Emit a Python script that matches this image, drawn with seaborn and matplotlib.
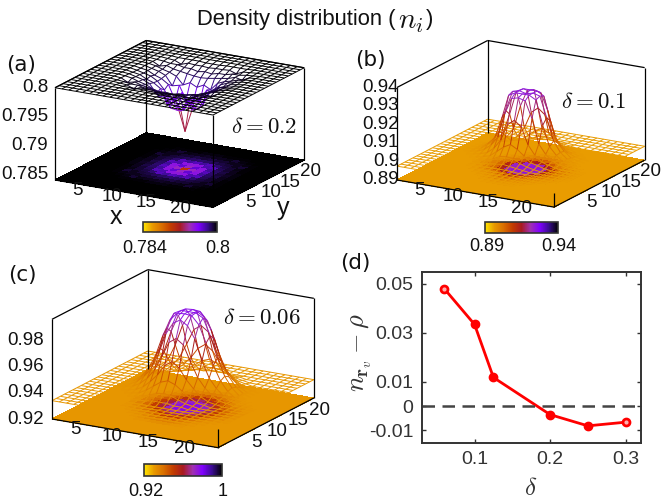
import numpy as np
import seaborn as sns
import matplotlib
matplotlib.use("Agg")
import matplotlib.pyplot as plt
from matplotlib.cm import ScalarMappable
from matplotlib.colors import Normalize
from mpl_toolkits.mplot3d import proj3d
from mpl_toolkits.mplot3d.art3d import Line3DCollection

W, H = 662, 499

# lattice sites and tick labels of the 3d panels
sites = list(range(1, 25))
lattice_ticks = [5, 10, 15, 20]

# density vs distance from the vortex site (|dx|, |dy|), last row/col = far field
table_a = [
    [.7906, .7945, .7950, .7972, .7985, .7992, .7995, .7998, .8000],
    [.7945, .7968, .7952, .7978, .7986, .7990, .7996, .7998, .8000],
    [.7950, .7952, .7975, .7972, .7988, .7993, .7996, .7999, .8000],
    [.7972, .7978, .7972, .7985, .7990, .7993, .7997, .7999, .8000],
    [.7985, .7986, .7988, .7990, .7992, .7996, .7993, .7999, .8000],
    [.7992, .7990, .7993, .7993, .7996, .7996, .7998, .7999, .8000],
    [.7995, .7996, .7996, .7997, .7993, .7998, .7999, .8000, .8000],
    [.7998, .7998, .7999, .7999, .7999, .7999, .8000, .8000, .8000],
    [.8000, .8000, .8000, .8000, .8000, .8000, .8000, .8000, .8000],
]
table_b = [
    [.9310, .9320, .9310, .9200, .9080, .9025, .8995, .8980, .8975],
    [.9320, .9320, .9300, .9170, .9060, .9020, .8990, .8980, .8975],
    [.9310, .9300, .9210, .9080, .9030, .9000, .8985, .8978, .8975],
    [.9200, .9170, .9080, .9030, .9000, .8988, .8980, .8975, .8975],
    [.9080, .9060, .9030, .9000, .8990, .8980, .8975, .8975, .8975],
    [.9025, .9020, .9000, .8988, .8980, .8975, .8975, .8975, .8975],
    [.8995, .8990, .8985, .8980, .8975, .8975, .8975, .8975, .8975],
    [.8980, .8980, .8978, .8975, .8975, .8975, .8975, .8975, .8975],
    [.8975, .8975, .8975, .8975, .8975, .8975, .8975, .8975, .8975],
]
table_c = [
    [.9935, .9935, .9905, .9780, .9620, .9490, .9410, .9360, .9340],
    [.9935, .9930, .9870, .9740, .9580, .9470, .9400, .9360, .9340],
    [.9905, .9870, .9780, .9620, .9500, .9430, .9380, .9350, .9340],
    [.9780, .9740, .9620, .9510, .9440, .9390, .9360, .9350, .9340],
    [.9620, .9580, .9500, .9440, .9390, .9360, .9350, .9340, .9340],
    [.9490, .9470, .9430, .9390, .9360, .9350, .9340, .9340, .9340],
    [.9410, .9400, .9380, .9360, .9350, .9340, .9340, .9340, .9340],
    [.9360, .9360, .9350, .9350, .9340, .9340, .9340, .9340, .9340],
    [.9340, .9340, .9340, .9340, .9340, .9340, .9340, .9340, .9340],
]

# panel d
delta = [0.06, 0.1, 0.125, 0.2, 0.25, 0.3]
n_diff = [0.048, 0.0334, 0.0117, -0.0035, -0.0081, -0.0066]
d_xticks = [0.1, 0.2, 0.3]
d_yticks = [-0.01, 0, 0.01, 0.03, 0.05]
d_ylabels = ["-0.01", "0", "0.01", "0.03", "0.05"]

sns.set_theme(style="white", font="Liberation Sans")
plt.rcParams["mathtext.fontset"] = "cm"

cmap = sns.blend_palette(["#ffe600", "#e89a00", "#d96f00", "#c23c00", "#a81a20",
                          "#a030b0", "#8000ff", "#3a0c90", "#000000"], n_colors=256, as_cmap=True)

fig = plt.figure(figsize=(W / 100, H / 100), dpi=100)


def to_px(ax, x, y, z):
    xs, ys, _ = proj3d.proj_transform(x, y, z, ax.get_proj())
    px, py = ax.transData.transform((xs, ys))
    return px, H - py


def put(x, y, s, **kw):
    return fig.text(x / W, 1 - y / H, s, **kw)


def panel(table, zlim, cmax, zticks, zlabels, left, front_x, z_frac, zlab_x, elev=17.4):
    ax = fig.add_axes([0, 0, 1, 1], projection="3d")
    ax.set_proj_type("ortho")
    ax.view_init(elev=elev, azim=-60)
    ax.set_axis_off()
    ax.patch.set_alpha(0)
    ax.computed_zorder = False

    idx = np.minimum(np.abs(np.array(sites) - 13), 8)
    Z = np.array(table)[np.ix_(idx, idx)]
    norm = Normalize(zlim[0], cmax)

    # flat heat map on the floor, one cell around each site
    edges = np.array([1] + [s + 0.5 for s in sites[:-1]] + [24])
    X0, Y0 = np.meshgrid(edges, edges, indexing="ij")
    colors = np.zeros(X0.shape + (4,))
    colors[:-1, :-1] = cmap(norm(Z))
    ax.plot_surface(X0, Y0, np.full(X0.shape, zlim[0]), facecolors=colors, rstride=1, cstride=1,
                    shade=False, antialiased=False, linewidth=0, zorder=1)

    # wire mesh coloured by height
    segs, seg_vals = [], []
    for i, a in enumerate(sites):
        for j, b in enumerate(sites):
            if i < 23:
                segs.append([(a, b, Z[i, j]), (a + 1, b, Z[i + 1, j])])
                seg_vals.append((Z[i, j] + Z[i + 1, j]) / 2)
            if j < 23:
                segs.append([(a, b, Z[i, j]), (a, b + 1, Z[i, j + 1])])
                seg_vals.append((Z[i, j] + Z[i, j + 1]) / 2)
    ax.add_collection3d(Line3DCollection(segs, colors=cmap(norm(np.array(seg_vals))), linewidths=0.7, zorder=3))

    # box lines like gnuplot border
    z0, z1 = zlim
    box = [[(1, 1, z0), (24, 1, z0)], [(24, 1, z0), (24, 24, z0)],
           [(1, 1, z0), (1, 1, z1)], [(1, 24, z0), (1, 24, z1)], [(24, 24, z0), (24, 24, z1)],
           [(1, 1, z1), (1, 24, z1)], [(1, 24, z1), (24, 24, z1)],
           [(24, 1, z0), (24, 1, Z[-1, 0])]]
    ax.add_collection3d(Line3DCollection(box, colors="black", linewidths=0.9, zorder=4))
    ax.set_xlim(1, 24)
    ax.set_ylim(1, 24)
    ax.set_zlim(*zlim)

    # scale and shift the axes so the floor corners land where they should
    ax.set_box_aspect((1, 1, z_frac), zoom=1)
    ax.apply_aspect()
    x1, _ = to_px(ax, 1, 1, z0)
    x2, _ = to_px(ax, 24, 1, z0)
    ax.set_box_aspect((1, 1, z_frac), zoom=(front_x - left[0]) / (x2 - x1))
    ax.apply_aspect()
    x1, y1 = to_px(ax, 1, 1, z0)
    ax.set_position([(left[0] - x1) / W, (y1 - left[1]) / H, 1, 1])
    ax.apply_aspect()

    for t in lattice_ticks:
        px, py = to_px(ax, t, 1, z0)
        put(px - 5, py + 6, str(t), fontsize=13.5, ha="center", va="center", color="#111111")
        px, py = to_px(ax, 24, t, z0)
        put(px + 22, py + 3.5, str(t), fontsize=13.5, ha="center", va="center", color="#111111")
    for t, lab in zip(zticks, zlabels):
        px, py = to_px(ax, 1, 1, t)
        put(zlab_x, py, lab, fontsize=13.5, ha="right", va="center", color="#111111")
    return ax


panel(table_a, (0.784, 0.8), 0.8, [0.785, 0.79, 0.795, 0.8], ["0.785", "0.79", "0.795", "0.8"],
      (55, 180), 213, 0.53, 48)
panel(table_b, (0.89, 0.94), 0.9507, [0.89, 0.9, 0.91, 0.92, 0.93, 0.94],
      ["0.89", "0.9", "0.91", "0.92", "0.93", "0.94"], (397, 180), 554, 0.535, 399)
panel(table_c, (0.92, 0.996), 1.022, [0.92, 0.94, 0.96, 0.98], ["0.92", "0.94", "0.96", "0.98"],
      (52, 419), 218, 0.545, 44)

put(116, 217, "x", fontsize=18, ha="center", va="center", color="#111111")
put(283, 208, "y", fontsize=18, ha="center", va="center", color="#111111")

# colour bars
bars = [(143, 217, 222, 232, 0.784, 0.8, "0.784", "0.8", 248),
        (485, 558, 222, 233, 0.89, 0.94, "0.89", "0.94", 247),
        (144, 222, 464, 476, 0.92, 1, "0.92", "1", 492)]
for x0, x1, y0, y1, v0, v1, s0, s1, ylab in bars:
    cax = fig.add_axes([x0 / W, 1 - y1 / H, (x1 - x0) / W, (y1 - y0) / H])
    cb = fig.colorbar(ScalarMappable(Normalize(v0, v1), cmap), cax=cax, orientation="horizontal")
    cb.set_ticks([])
    cb.outline.set_edgecolor("#333333")
    cb.outline.set_linewidth(1.2)
    put(x0 + 2, ylab, s0, fontsize=13, ha="center", va="center", color="#111111")
    put(x1 + 1, ylab, s1, fontsize=13, ha="center", va="center", color="#111111")

# panel d
ax_d = fig.add_axes([421.7 / W, 1 - 442.7 / H, 219 / W, 171 / H])
sns.lineplot(x=delta, y=n_diff, ax=ax_d, color="#ff0000", linewidth=2, marker="o", markersize=6,
             markeredgecolor="#ff0000", markeredgewidth=1)
ax_d.plot([delta[0], delta[-1]], [n_diff[0], n_diff[-1]], ls="none", marker="o", ms=2, color="#ffb0b0")
ax_d.axhline(0, color="#444444", lw=1.8, dashes=(5, 3))
ax_d.set_xlim(0.03, 0.32)
ax_d.set_ylim(-0.015, 0.055)
ax_d.set_xticks(d_xticks)
ax_d.set_xticklabels([str(t) for t in d_xticks])
ax_d.set_yticks(d_yticks)
ax_d.set_yticklabels(d_ylabels)
ax_d.tick_params(direction="in", length=3, width=1, top=True, right=True, bottom=True, left=True,
                 labelsize=14, colors="#333333", pad=6)
for sp in ax_d.spines.values():
    sp.set_linewidth(1.4)
    sp.set_color("#333333")

put(531, 488, r"$\delta$", fontsize=18, ha="center", va="center", color="#333333")
put(362, 353, r"$n_{\mathbf{r}_v}-\rho$", fontsize=19, ha="center", va="center", rotation=90, color="#333333")

# title
put(197, 20, "Density distribution (", fontsize=15.8, ha="left", va="center", color="#111111")
put(411, 21, r"$n_i$", fontsize=21, ha="center", va="center", color="#111111")
put(430, 20, ")", fontsize=15.8, ha="center", va="center", color="#111111")
for x, y, s in [(21, 65, "(a)"), (370, 60, "(b)"), (22, 275, "(c)"), (355, 263, "(d)")]:
    put(x, y, s, fontsize=15.5, ha="center", va="center", family="DejaVu Sans", color="#111111")
for x, y, s in [(264, 127, r"$\delta=0.2$"), (594, 102, r"$\delta=0.1$"), (262, 317, r"$\delta=0.06$")]:
    put(x, y, s, fontsize=16.5, ha="center", va="center", color="#111111")

fig.savefig("out.png", dpi=100)
